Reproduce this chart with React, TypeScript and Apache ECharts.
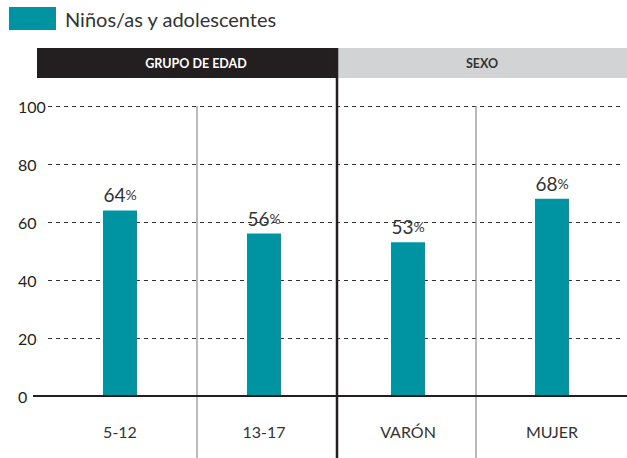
import React, { useEffect, useRef } from "react";
import * as echarts from "echarts";

const categories = ["5-12", "13-17", "VARÓN", "MUJER"];
const values = [64, 56, 53, 68];
const seriesName = "Niños/as y adolescentes";
const groupLabels = ["GRUPO DE EDAD", "SEXO"];
const yTicks = [0, 20, 40, 60, 80, 100];

const FONT = "Lato, 'Open Sans', sans-serif";
const TEAL = "#0093a1";
const DARK = "#231f20";

export default function App() {
  const ref = useRef<HTMLDivElement>(null);
  useEffect(() => {
    if (!ref.current) return;
    const chart = echarts.init(ref.current, null, { renderer: "svg" });
    const option: any = {
      animation: false,
      textStyle: { fontFamily: FONT },
      legend: {
        left: 9,
        top: 7,
        padding: 0,
        itemWidth: 47,
        itemHeight: 23,
        icon: "rect",
        textStyle: { fontSize: 20, color: "#333", fontFamily: FONT, padding: [0, 0, 0, 4] },
        data: [seriesName],
      },
      grid: { left: 48, right: 3, top: 106, bottom: 62 },
      xAxis: {
        type: "category",
        data: categories,
        axisLine: { show: false },
        axisTick: { show: false },
        axisLabel: { margin: 27, fontSize: 16, color: "#333", fontFamily: FONT },
      },
      yAxis: {
        type: "value",
        min: yTicks[0],
        max: yTicks[yTicks.length - 1],
        interval: 20,
        axisLine: { show: false },
        axisTick: { show: false },
        axisLabel: { margin: 30, align: "left", fontSize: 16, color: DARK, fontFamily: FONT },
        splitLine: { lineStyle: { type: [4, 4], color: "#333", width: 1 } },
      },
      series: [
        {
          name: seriesName,
          type: "bar",
          data: values,
          barWidth: 34,
          itemStyle: { color: TEAL },
          label: {
            show: true,
            position: "top",
            distance: 6,
            formatter: (p: any) => `{v|${p.value}}{p|%}`,
            rich: {
              v: { fontSize: 19, color: "#333", fontFamily: FONT },
              p: { fontSize: 14, color: "#333", fontFamily: FONT },
            },
          },
        },
      ],
    };
    chart.setOption(option);

    const y0 = chart.convertToPixel({ yAxisIndex: 0 }, 0) as number;
    const y100 = chart.convertToPixel({ yAxisIndex: 0 }, 100) as number;
    option.graphic = [
      { type: "rect", shape: { x: 37, y: 48, width: 300, height: 30 }, style: { fill: DARK }, z: 10 },
      { type: "rect", shape: { x: 338, y: 48, width: 289, height: 30 }, style: { fill: "#d1d3d4" }, z: 10 },
      {
        type: "text", x: 196, y: 63, z: 11,
        style: { text: groupLabels[0], fill: "#fff", fontSize: 12.5, fontWeight: "bold", fontFamily: FONT, align: "center", verticalAlign: "middle" },
      },
      {
        type: "text", x: 482, y: 63, z: 11,
        style: { text: groupLabels[1], fill: "#333", fontSize: 12.5, fontWeight: "bold", fontFamily: FONT, align: "center", verticalAlign: "middle" },
      },
      { type: "line", shape: { x1: 197, y1: y100, x2: 197, y2: 458 }, style: { stroke: "#777", lineWidth: 1 }, z: 10 },
      { type: "line", shape: { x1: 476, y1: y100, x2: 476, y2: 458 }, style: { stroke: "#777", lineWidth: 1 }, z: 10 },
      { type: "line", shape: { x1: 337, y1: 48, x2: 337, y2: 458 }, style: { stroke: DARK, lineWidth: 2.5 }, z: 10 },
      { type: "line", shape: { x1: 33, y1: y0, x2: 627, y2: y0 }, style: { stroke: DARK, lineWidth: 2 }, z: 10 },
    ];
    chart.setOption(option);
    return () => chart.dispose();
  }, []);
  return (
    <div
      ref={ref}
      style={{ position: "absolute", left: 0, top: 0, width: 627, height: 458 }}
    />
  );
}
